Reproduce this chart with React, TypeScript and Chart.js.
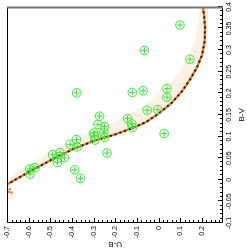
import React, { useEffect, useRef } from "react";
import { Chart, registerables } from "chart.js";
Chart.register(...registerables);

// ---- data (B-V on x, U-B on y; the finished picture is turned 90° anticlockwise) ----
const BV_TICKS = [-0.1, -0.05, 0, 0.05, 0.1, 0.15, 0.2, 0.25, 0.3, 0.35, 0.4];
const UB_TICKS = [-0.7, -0.6, -0.5, -0.4, -0.3, -0.2, -0.1, 0, 0.1, 0.2];

const STAR_UB = [0.098, -0.066, 0.144, -0.379, -0.122, -0.072, 0.038, 0.038, -0.053, -0.004, -0.273, -0.144, -0.281, -0.25, -0.125, -0.122, -0.3, -0.298, -0.253, -0.25, -0.295, -0.38, -0.409, -0.377, 0.025, -0.239, -0.49, -0.456, -0.468, -0.436, -0.468, -0.596, -0.572, -0.595, -0.388, -0.361];
const STAR_BV = [0.358, 0.299, 0.279, 0.201, 0.202, 0.206, 0.211, 0.191, 0.161, 0.162, 0.147, 0.142, 0.128, 0.123, 0.129, 0.121, 0.108, 0.102, 0.11, 0.098, 0.092, 0.093, 0.082, 0.076, 0.107, 0.062, 0.058, 0.063, 0.049, 0.051, 0.04, 0.025, 0.028, 0.013, 0.023, 0.003];

const LOCUS_BV = [-0.012, 0.018, 0.045, 0.07, 0.09, 0.105, 0.12, 0.133, 0.153, 0.178, 0.205, 0.233, 0.26, 0.288, 0.32, 0.35, 0.38, 0.397];
const LOCUS_UB = [-0.705, -0.6, -0.5, -0.4, -0.3, -0.2, -0.12, -0.06, 0, 0.06, 0.108, 0.146, 0.177, 0.2, 0.212, 0.214, 0.21, 0.205];

const BAND_L_BV = [-0.045, 0.0, 0.035, 0.065, 0.09, 0.113, 0.135, 0.16, 0.185, 0.215, 0.245, 0.28, 0.32, 0.36, 0.4];
const BAND_L_UB = [-0.73, -0.7, -0.6, -0.5, -0.4, -0.3, -0.2, -0.1, -0.03, 0.04, 0.09, 0.13, 0.165, 0.183, 0.19];
const BAND_M_BV = [-0.03, 0.0, 0.027, 0.055, 0.08, 0.1, 0.12, 0.14, 0.165, 0.195, 0.225, 0.26, 0.3, 0.34, 0.4];
const BAND_M_UB = [-0.71, -0.69, -0.6, -0.5, -0.4, -0.3, -0.2, -0.1, -0.02, 0.05, 0.1, 0.14, 0.175, 0.195, 0.2];
const BAND_R_BV = [-0.045, -0.02, -0.01, 0.018, 0.045, 0.07, 0.09, 0.105, 0.12, 0.133, 0.153, 0.178, 0.205, 0.233, 0.26, 0.288, 0.31, 0.35, 0.4];
const BAND_R_UB = [-0.665, -0.68, -0.695, -0.598, -0.498, -0.398, -0.298, -0.198, -0.118, -0.058, 0.002, 0.062, 0.11, 0.148, 0.18, 0.205, 0.222, 0.228, 0.226];

const EXTRA_BV = [-0.022, -0.03, -0.028];
const EXTRA_UB = [-0.688, -0.68, -0.692];

const BV_MINOR_STEP = 0.01;
const UB_MINOR_STEP = 0.02;

const W = 252;
const H = 247;
const FONT = "'Liberation Sans', Arial, Helvetica, sans-serif";

const zip = (xs: number[], ys: number[]) => xs.map((x, i) => ({ x, y: ys[i] }));
const fmt = (v: number) => String(Math.round(v * 100) / 100);

export default function App() {
  const ref = useRef<HTMLCanvasElement>(null);
  useEffect(() => {
    if (!ref.current) return;
    const frameTicks = {
      id: "frameTicks",
      afterDraw(chart: any) {
        const { ctx, chartArea: a, scales } = chart;
        const xs = scales.x;
        const ys = scales.y;
        ctx.save();
        ctx.lineWidth = 1;
        ctx.strokeStyle = "#000";
        const L = Math.round(a.left) + 0.5;
        const R = Math.round(a.right) - 0.5;
        const T = Math.round(a.top) + 0.5;
        const B = Math.round(a.bottom) - 0.5;
        ctx.beginPath();
        const nx = Math.round((xs.max - xs.min) / BV_MINOR_STEP);
        for (let i = 0; i <= nx; i++) {
          const v = xs.min + i * BV_MINOR_STEP;
          const isMajor = BV_TICKS.some((t) => Math.abs(t - v) < 1e-6);
          const px = Math.round(xs.getPixelForValue(v)) + 0.5;
          ctx.moveTo(px, B);
          ctx.lineTo(px, B - (isMajor ? 4.5 : 2.5));
        }
        const ny = Math.floor((ys.max - ys.min) / UB_MINOR_STEP + 1e-6);
        for (let i = 0; i <= ny; i++) {
          const v = ys.min + i * UB_MINOR_STEP;
          const isMajor = UB_TICKS.some((t) => Math.abs(t - v) < 1e-6);
          const py = Math.round(ys.getPixelForValue(v)) + 0.5;
          ctx.moveTo(L, py);
          ctx.lineTo(L + (isMajor ? 4.5 : 2.5), py);
        }
        ctx.stroke();
        ctx.beginPath();
        ctx.moveTo(R, T);
        ctx.lineTo(L, T);
        ctx.lineTo(L, B);
        ctx.lineTo(R, B);
        ctx.stroke();
        ctx.beginPath();
        ctx.strokeStyle = "#777";
        ctx.lineWidth = 2;
        ctx.moveTo(R, T - 0.5);
        ctx.lineTo(R, B + 0.5);
        ctx.stroke();
        ctx.restore();
      },
    };

    const edge = (xs: number[], ys: number[], fill: any, color: string) => ({
      data: zip(xs, ys),
      borderWidth: 0,
      pointRadius: 0,
      borderColor: "rgba(0,0,0,0)",
      backgroundColor: color,
      fill,
      order: 6,
    });

    const chart = new Chart(ref.current, {
      type: "line",
      data: {
        datasets: [
          edge(BAND_L_BV, BAND_L_UB, 2, "#fef0e5"),
          edge(BAND_M_BV, BAND_M_UB, 2, "#fde3ce"),
          edge(BAND_R_BV, BAND_R_UB, false, "rgba(0,0,0,0)"),
          {
            data: zip(LOCUS_BV, LOCUS_UB),
            borderColor: "#ee7420",
            borderWidth: 2.2,
            pointRadius: 0,
            fill: false,
            order: 5,
          },
          {
            data: zip(LOCUS_BV, LOCUS_UB),
            borderColor: "#1e1a18",
            borderWidth: 2,
            borderDash: [2, 3],
            pointRadius: 0,
            fill: false,
            order: 4,
          },
          {
            data: zip(EXTRA_BV, EXTRA_UB),
            showLine: false,
            pointRadius: 1.2,
            pointBorderWidth: 0,
            pointBackgroundColor: "#f08030",
            order: 4,
          },
          {
            data: zip(STAR_BV, STAR_UB),
            showLine: false,
            pointStyle: "circle",
            pointRadius: 4.3,
            pointBorderWidth: 1,
            pointBorderColor: "#30e830",
            pointBackgroundColor: "rgba(0,0,0,0)",
            order: 1,
          },
          {
            data: zip(STAR_BV, STAR_UB),
            showLine: false,
            pointStyle: "cross",
            pointRadius: 3,
            pointBorderWidth: 1,
            pointBorderColor: "#30e830",
            order: 0,
          },
        ] as any,
      },
      options: {
        responsive: false,
        animation: false,
        devicePixelRatio: 1,
        layout: { padding: { top: 7, right: 6, left: 0, bottom: 0 } },
        plugins: { legend: { display: false }, tooltip: { enabled: false } },
        elements: { line: { tension: 0 } },
        scales: {
          x: {
            type: "linear",
            min: -0.1,
            max: 0.4,
            grid: { display: false, drawTicks: false },
            border: { display: false },
            afterBuildTicks: (s: any) => {
              s.ticks = BV_TICKS.map((v) => ({ value: v }));
            },
            afterFit: (s: any) => {
              s.height = 24;
            },
            ticks: {
              padding: 2,
              autoSkip: false,
              maxRotation: 0,
              minRotation: 0,
              color: "#000",
              font: { family: FONT, size: 7 },
              callback: (v: any) => fmt(Number(v)),
            },
            title: {
              display: true,
              text: "B-V",
              color: "#000",
              font: { family: FONT, size: 8, lineHeight: 1.25 },
              padding: { top: 0, bottom: 0 },
            },
          },
          y: {
            type: "linear",
            min: -0.7,
            max: 0.297,
            reverse: true,
            grid: { display: false, drawTicks: false },
            border: { display: false },
            afterBuildTicks: (s: any) => {
              s.ticks = UB_TICKS.map((v) => ({ value: v }));
            },
            afterFit: (s: any) => {
              s.width = 29;
            },
            ticks: {
              padding: 3,
              autoSkip: false,
              color: "#000",
              font: { family: FONT, size: 7 },
              callback: (v: any) => fmt(Number(v)),
            },
            title: {
              display: true,
              text: "U-B",
              color: "#000",
              font: { family: FONT, size: 8, lineHeight: 1.25 },
              padding: { top: 3, bottom: 0 },
            },
          },
        },
      } as any,
      plugins: [frameTicks],
    });
    return () => chart.destroy();
  }, []);

  return (
    <div
      style={{
        position: "fixed",
        left: 0,
        top: 0,
        width: W,
        height: H,
        transformOrigin: "0 0",
        transform: `translate(0px, ${W}px) rotate(-90deg)`,
        background: "#fff",
      }}
    >
      <canvas ref={ref} width={W} height={H} style={{ display: "block", width: W, height: H }} />
    </div>
  );
}
